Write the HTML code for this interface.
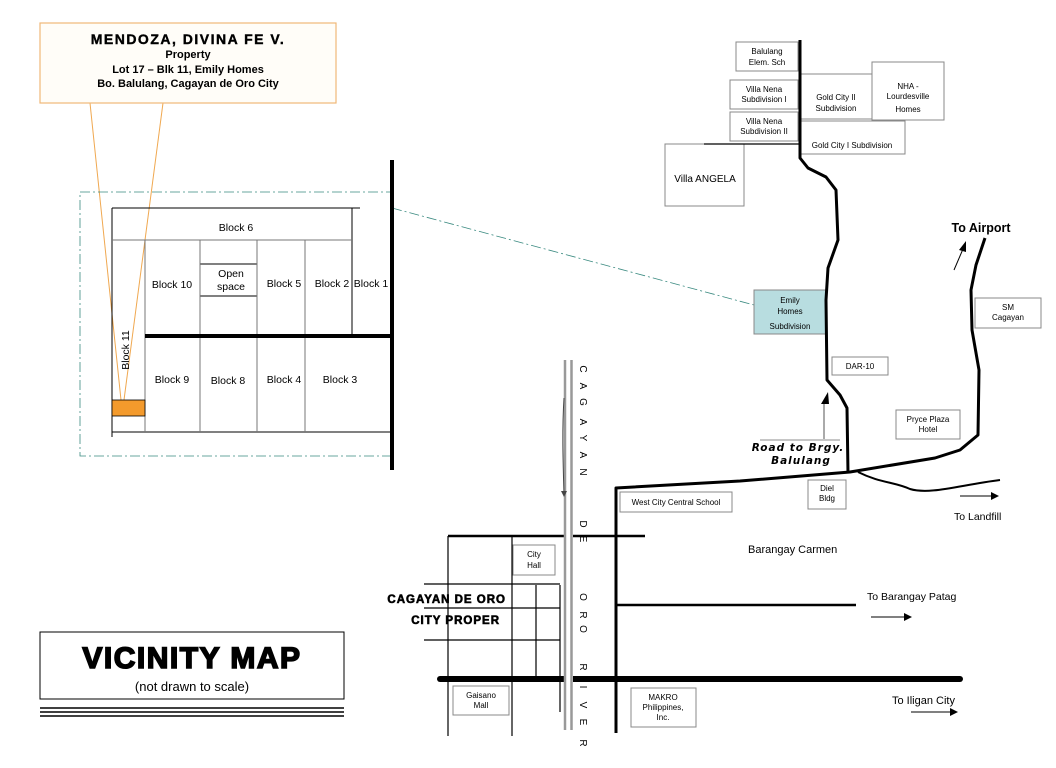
<!DOCTYPE html>
<html><head><meta charset="utf-8"><style>
body{margin:0;background:#fff;}
svg{display:block;font-family:"Liberation Sans",Arial,sans-serif;}
.s{font-size:8px;}
</style></head><body>
<svg width="1056" height="768" viewBox="0 0 1056 768" xmlns="http://www.w3.org/2000/svg">
<rect width="1056" height="768" fill="#fff"/>
<!-- callout -->
<line x1="90" y1="103" x2="121" y2="400" stroke="#f0a850" stroke-width="1"/>
<line x1="163" y1="103" x2="124" y2="400" stroke="#f0a850" stroke-width="1"/>
<rect x="40" y="23" width="296" height="80" fill="#fffdf8" stroke="#f0b878" stroke-width="1.2"/>
<text x="188" y="44" text-anchor="middle" font-weight="bold" font-size="14" letter-spacing="1.5" stroke="#000" stroke-width="0.4">MENDOZA, DIVINA FE V.</text>
<text x="188" y="58" text-anchor="middle" font-weight="bold" font-size="11">Property</text>
<text x="188" y="73" text-anchor="middle" font-weight="bold" font-size="11">Lot 17 – Blk 11,  Emily Homes</text>
<text x="188" y="87" text-anchor="middle" font-weight="bold" font-size="11">Bo. Balulang, Cagayan de Oro City</text>
<!-- dashed zoom box -->
<rect x="80" y="192" width="312" height="264" fill="none" stroke="#3a8a80" stroke-width="0.8" stroke-dasharray="10,3,2,3"/>
<line x1="392" y1="208" x2="754" y2="305" stroke="#3a8a80" stroke-width="0.8" stroke-dasharray="10,3,2,3"/>
<!-- blocks -->
<g stroke="#000" stroke-width="1" fill="none">
<line x1="112" y1="208" x2="360" y2="208"/>
<line x1="112" y1="208" x2="112" y2="437"/>
<line x1="352" y1="208" x2="352" y2="334"/>
<line x1="112" y1="432" x2="392" y2="432"/>
<line x1="200" y1="264" x2="257" y2="264"/>
<line x1="200" y1="296" x2="257" y2="296"/>
</g>
<g stroke="#777" stroke-width="1">
<line x1="112" y1="240" x2="352" y2="240"/>
<line x1="145" y1="240" x2="145" y2="432"/>
<line x1="200" y1="240" x2="200" y2="432"/>
<line x1="257" y1="240" x2="257" y2="432"/>
<line x1="305" y1="240" x2="305" y2="432"/>
</g>
<rect x="112" y="400" width="33" height="16" fill="#f39a2c" stroke="#000" stroke-width="0.8"/>
<line x1="145" y1="336" x2="392" y2="336" stroke="#000" stroke-width="4"/>
<line x1="392" y1="160" x2="392" y2="470" stroke="#000" stroke-width="4"/>
<g font-size="10.5" text-anchor="middle">
<text x="236" y="231">Block 6</text>
<text x="172" y="288">Block 10</text>
<text x="231" y="277">Open</text><text x="231" y="290">space</text>
<text x="284" y="287">Block 5</text>
<text x="332" y="287">Block 2</text>
<text x="371" y="287">Block 1</text>
<text x="172" y="383">Block 9</text>
<text x="228" y="384">Block 8</text>
<text x="284" y="383">Block 4</text>
<text x="340" y="383">Block 3</text>
<text transform="translate(129,350) rotate(-90)" text-anchor="middle">Block 11</text>
</g>
<!-- vicinity box -->
<rect x="40" y="632" width="304" height="67" fill="#fff" stroke="#000" stroke-width="1"/>
<text x="192" y="668" text-anchor="middle" font-weight="900" font-size="30" stroke="#000" stroke-width="1.6" letter-spacing="1.5">VICINITY MAP</text>
<text x="192" y="691" text-anchor="middle" font-size="13">(not drawn to scale)</text>
<line x1="40" y1="708" x2="344" y2="708" stroke="#000" stroke-width="1.4"/>
<line x1="40" y1="712" x2="344" y2="712" stroke="#000" stroke-width="1.4"/>
<line x1="40" y1="716" x2="344" y2="716" stroke="#000" stroke-width="1.4"/>
<!-- north cluster boxes -->
<g stroke="#888" fill="#fff" stroke-width="1">
<rect x="736" y="42" width="62" height="29"/>
<rect x="730" y="80" width="68" height="29"/>
<rect x="730" y="112" width="68" height="29"/>
<rect x="801" y="74" width="72" height="45"/>
<rect x="872" y="62" width="72" height="58"/>
<rect x="801" y="121" width="104" height="33"/>
<rect x="665" y="144" width="79" height="62"/>
<rect x="754" y="290" width="72" height="44" fill="#b8dde0"/>
<rect x="832" y="357" width="56" height="18"/>
<rect x="975" y="298" width="66" height="30"/>
<rect x="896" y="410" width="64" height="29"/>
<rect x="808" y="480" width="38" height="29"/>
<rect x="620" y="492" width="112" height="20"/>
<rect x="513" y="545" width="42" height="30"/>
<rect x="453" y="686" width="56" height="29"/>
<rect x="631" y="688" width="65" height="39"/>
</g>
<line x1="704" y1="144" x2="800" y2="144" stroke="#000" stroke-width="1.2"/>
<g class="s" text-anchor="middle">
<text x="767" y="54">Balulang</text><text x="767" y="65">Elem. Sch</text>
<text x="764" y="92">Villa Nena</text><text x="764" y="102">Subdivision I</text>
<text x="764" y="124">Villa Nena</text><text x="764" y="134">Subdivision II</text>
<text x="836" y="100">Gold City II</text><text x="836" y="111">Subdivision</text>
<text x="908" y="89">NHA -</text><text x="908" y="99">Lourdesville</text><text x="908" y="112">Homes</text>
<text x="852" y="148">Gold City I Subdivision</text>
<text x="790" y="303">Emily</text><text x="790" y="314">Homes</text><text x="790" y="329">Subdivision</text>
<text x="860" y="369">DAR-10</text>
<text x="1008" y="310">SM</text><text x="1008" y="320">Cagayan</text>
<text x="928" y="422">Pryce Plaza</text><text x="928" y="432">Hotel</text>
<text x="827" y="491">Diel</text><text x="827" y="501">Bldg</text>
<text x="676" y="505">West City Central School</text>
<text x="534" y="557">City</text><text x="534" y="568">Hall</text>
<text x="481" y="698">Gaisano</text><text x="481" y="708">Mall</text>
<text x="663" y="700">MAKRO</text><text x="663" y="710">Philippines,</text><text x="663" y="720">Inc.</text>
</g>
<text x="705" y="182" text-anchor="middle" font-size="10">Villa ANGELA</text>
<!-- roads -->
<g fill="none" stroke="#000" stroke-width="3" stroke-linejoin="round">
<path d="M800,40 L800,158 L808,168 L826,177 L836,190 L838,240 L828,268 L826,300 L827,380 L840,395 L847,408 L848,473"/>
<path d="M616,733 L616,488 L740,481 L850,472 L935,458 L960,450 L978,435 L979,370 L972,330 L971,290 L976,265 L985,238"/>
</g>
<path d="M858,472 C880,483 895,482 910,489 C930,495 960,485 1000,480" fill="none" stroke="#000" stroke-width="2"/>
<g stroke="#000" stroke-width="2.5">
<line x1="448" y1="536" x2="645" y2="536"/>
<line x1="616" y1="605" x2="856" y2="605"/>
</g>
<line x1="440" y1="679" x2="960" y2="679" stroke="#000" stroke-width="6" stroke-linecap="round"/>
<g stroke="#000" stroke-width="1.2">
<line x1="448" y1="536" x2="448" y2="736"/>
<line x1="512" y1="536" x2="512" y2="736"/>
<line x1="536" y1="585" x2="536" y2="676"/>
<line x1="560" y1="585" x2="560" y2="712"/>
<line x1="424" y1="584" x2="560" y2="584"/>
<line x1="424" y1="608" x2="560" y2="608"/>
<line x1="424" y1="640" x2="560" y2="640"/>
</g>
<!-- river -->
<rect x="564" y="360" width="9" height="370" fill="#fff" stroke="none"/>
<line x1="565" y1="360" x2="565" y2="730" stroke="#999" stroke-width="2.5"/>
<line x1="571.5" y1="360" x2="571.5" y2="730" stroke="#999" stroke-width="2.5"/>
<path d="M564,398 C562,430 563,460 564,495" fill="none" stroke="#444" stroke-width="1"/>
<polygon points="561,491 567,491 564,497" fill="#444"/>
<g font-size="10" text-anchor="middle">
<text transform="translate(580,369) rotate(90)">C</text>
<text transform="translate(580,386) rotate(90)">A</text>
<text transform="translate(580,402) rotate(90)">G</text>
<text transform="translate(580,422) rotate(90)">A</text>
<text transform="translate(580,438) rotate(90)">Y</text>
<text transform="translate(580,455) rotate(90)">A</text>
<text transform="translate(580,472) rotate(90)">N</text>
<text transform="translate(580,524) rotate(90)">D</text>
<text transform="translate(580,539) rotate(90)">E</text>
<text transform="translate(580,597) rotate(90)">O</text>
<text transform="translate(580,615) rotate(90)">R</text>
<text transform="translate(580,629) rotate(90)">O</text>
<text transform="translate(580,667) rotate(90)">R</text>
<text transform="translate(580,687) rotate(90)">I</text>
<text transform="translate(580,705) rotate(90)">V</text>
<text transform="translate(580,722) rotate(90)">E</text>
<text transform="translate(580,743) rotate(90)">R</text>
</g>
<!-- labels -->
<g font-weight="bold" font-size="11.5" text-anchor="end" letter-spacing="1" stroke="#000" stroke-width="0.6">
<text x="506" y="603">CAGAYAN DE ORO</text>
<text x="500" y="624">CITY PROPER</text>
</g>
<text x="981" y="232" text-anchor="middle" font-weight="bold" font-size="12.5">To Airport</text>
<line x1="954" y1="270" x2="963" y2="249" stroke="#000" stroke-width="1"/>
<polygon points="966,241 959,250 966,252" fill="#000"/>
<g font-weight="bold" font-style="italic" font-size="10.5" text-anchor="middle" style="font-family:'DejaVu Sans',sans-serif" letter-spacing="1">
<text x="798" y="451">Road to Brgy.</text>
<text x="801" y="464">Balulang</text>
</g>
<line x1="760" y1="440" x2="840" y2="440" stroke="#666" stroke-width="0.8"/>
<line x1="824" y1="439" x2="824" y2="402" stroke="#555" stroke-width="1"/>
<polygon points="828,392 821,404 829,404" fill="#000"/>
<text x="748" y="553" font-size="11">Barangay Carmen</text>
<text x="954" y="520" font-size="10.5">To  Landfill</text>
<text x="867" y="600" font-size="10.5">To  Barangay  Patag</text>
<text x="892" y="704" font-size="11">To  Iligan City</text>
<g stroke="#000" stroke-width="1">
<line x1="960" y1="496" x2="992" y2="496"/>
<line x1="871" y1="617" x2="905" y2="617"/>
<line x1="911" y1="712" x2="950" y2="712"/>
</g>
<g fill="#000">
<polygon points="999,496 991,492 991,500"/>
<polygon points="912,617 904,613 904,621"/>
<polygon points="958,712 950,708 950,716"/>
</g>
</svg>
</body></html>
